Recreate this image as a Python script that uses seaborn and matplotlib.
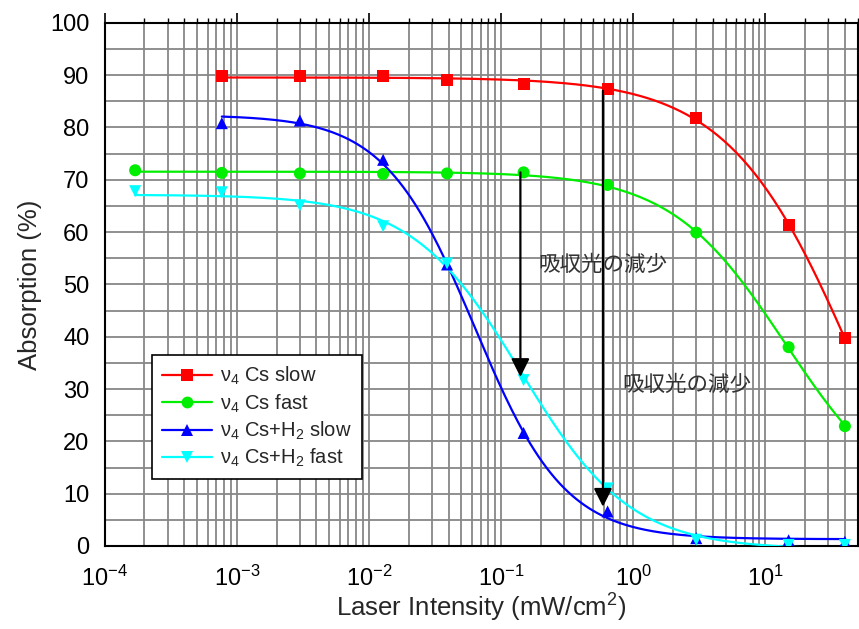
import numpy as np
import pandas as pd
import matplotlib
matplotlib.use("Agg")
import matplotlib.pyplot as plt
import seaborn as sns
from matplotlib.lines import Line2D
from matplotlib.ticker import LogLocator, MultipleLocator, NullFormatter, LogFormatterMathtext

# ---------------- data ----------------
intensity = [1.7e-4, 7.7e-4, 3.0e-3, 0.0128, 0.039, 0.148, 0.64, 3.0, 15.0, 40.0]
cs_slow   = [np.nan, 89.8, 89.8, 89.8, 89.0, 88.3, 87.3, 81.7, 61.4, 39.7]
cs_fast   = [71.8, 71.3, 71.2, 71.1, 71.2, 71.4, 69.0, 59.9, 38.0, 22.9]
csh2_slow = [np.nan, 80.8, 81.3, 73.8, 53.8, 21.6, 6.6, 1.5, 1.1, 0.8]
csh2_fast = [67.8, 67.6, 65.1, 61.1, 54.0, 31.7, 11.0, 1.2, 0.2, 0.2]

series_keys   = ["cs_slow", "cs_fast", "csh2_slow", "csh2_fast"]
series_labels = ["ν$_4$ Cs slow", "ν$_4$ Cs fast", "ν$_4$ Cs+H$_2$ slow", "ν$_4$ Cs+H$_2$ fast"]
series_colors = ["#ff0000", "#00ee00", "#0000ff", "#00ffff"]
series_markers = ["s", "o", "^", "v"]
series_values = [cs_slow, cs_fast, csh2_slow, csh2_fast]

# annotation arrows (x, y_start, y_end) and texts (x, y)
arrow_x     = [0.14, 0.59]
arrow_y0    = [71.4, 87.0]
arrow_y1    = [32.3, 7.5]
note_text   = ["吸収光の減少", "吸収光の減少"]
note_x      = [0.19, 0.83]
note_y      = [53.8, 30.7]

y_ticks = list(range(0, 101, 10))

# ---------------- helpers ----------------
def fit_sigmoid(x, y):
    """Least-squares fit of y = top*g + bottom*(1-g), g = 1/(1+(x/x0)^p)."""
    lx = np.log10(x)
    lx0 = np.linspace(-3.5, 2.5, 241)
    p = np.linspace(0.3, 3.0, 109)
    L, P = np.meshgrid(lx0, p, indexing="ij")
    g = 1.0 / (1.0 + 10 ** (P[..., None] * (lx[None, None, :] - L[..., None])))
    h = 1.0 - g
    a11 = (g * g).sum(-1); a12 = (g * h).sum(-1); a22 = (h * h).sum(-1)
    b1 = (g * y).sum(-1); b2 = (h * y).sum(-1)
    det = a11 * a22 - a12 ** 2
    det = np.where(np.abs(det) < 1e-12, np.nan, det)
    top = (b1 * a22 - b2 * a12) / det
    bot = (a11 * b2 - a12 * b1) / det
    res = ((top[..., None] * g + bot[..., None] * h - y) ** 2).sum(-1)
    i, j = np.unravel_index(np.nanargmin(res), res.shape)
    return lx0[i], p[j], top[i, j], bot[i, j]

# ---------------- frames ----------------
pts_rows, curve_rows = [], []
for key, vals in zip(series_keys, series_values):
    x = np.array(intensity, float)
    y = np.array(vals, float)
    m = ~np.isnan(y)
    x, y = x[m], y[m]
    for a, b in zip(x, y):
        pts_rows.append({"x": a, "y": b, "series": key})
    l0, p, top, bot = fit_sigmoid(x, y)
    xs = np.logspace(np.log10(x.min()), np.log10(x.max()), 300)
    g = 1.0 / (1.0 + (xs / 10 ** l0) ** p)
    ys = top * g + bot * (1 - g)
    for a, b in zip(xs, ys):
        curve_rows.append({"x": a, "y": b, "series": key})
pts = pd.DataFrame(pts_rows)
curves = pd.DataFrame(curve_rows)

palette = dict(zip(series_keys, series_colors))
markers = dict(zip(series_keys, series_markers))

# ---------------- plot ----------------
sns.set_theme(style="white")
plt.rcParams["font.family"] = ["Liberation Sans", "DejaVu Sans"]
plt.rcParams["mathtext.fontset"] = "custom"
plt.rcParams["mathtext.rm"] = "Liberation Sans"
plt.rcParams["mathtext.it"] = "Liberation Sans:italic"
plt.rcParams["mathtext.bf"] = "Liberation Sans:bold"

fig = plt.figure(figsize=(8.59, 6.29), dpi=100)
ax = fig.add_axes([104.7 / 859, 1 - 546 / 629, (857.7 - 104.7) / 859, (546 - 22.7) / 629])
ax.set_xscale("log")
ax.set_xlim(1e-4, 50)
ax.set_ylim(0, 100)

sns.lineplot(data=curves, x="x", y="y", hue="series", palette=palette,
             estimator=None, sort=False, linewidth=1.6, legend=False, ax=ax, zorder=3)
sns.scatterplot(data=pts, x="x", y="y", hue="series", style="series",
                palette=palette, markers=markers, s=75, linewidth=0,
                legend=False, ax=ax, zorder=4)

# grid
ax.set_axisbelow(True)
ax.xaxis.set_major_locator(LogLocator(base=10, numticks=20))
ax.xaxis.set_minor_locator(LogLocator(base=10, subs=np.arange(2, 10), numticks=200))
ax.xaxis.set_minor_formatter(NullFormatter())
ax.xaxis.set_major_formatter(LogFormatterMathtext())
ax.set_yticks(y_ticks)
ax.yaxis.set_minor_locator(MultipleLocator(5))
ax.grid(which="both", color="#878787", linewidth=1.3)

for s in ax.spines.values():
    s.set_color("black")
    s.set_linewidth(1.5)
ax.tick_params(which="major", direction="out", length=7, width=1.2, labelsize=17,
               colors="black", top=True, right=True, pad=4)
ax.tick_params(which="minor", direction="out", length=3.5, width=1.0,
               top=True, right=True, colors="black")
ax.tick_params(axis="x", which="major", pad=7)

ax.set_xlabel("Laser Intensity (mW/cm$^2$)", fontsize=18.5, labelpad=1)
ax.set_ylabel("Absorption (%)", fontsize=18.5, labelpad=6)

# arrows and notes
for xa, y0, y1 in zip(arrow_x, arrow_y0, arrow_y1):
    ax.annotate("", xy=(xa, y1), xytext=(xa, y0),
                arrowprops=dict(arrowstyle="-|>,head_length=1.1,head_width=0.55",
                                color="black", lw=1.6, shrinkA=0, shrinkB=0,
                                mutation_scale=10),
                zorder=5)
for t, xt, yt in zip(note_text, note_x, note_y):
    ax.text(xt, yt, t, fontsize=15.5, color="#333333", va="center", ha="left",
            family=["Noto Sans CJK JP", "DejaVu Sans"], zorder=6)

# legend
handles = [Line2D([0], [0], color=c, marker=mk, markersize=8.5, linewidth=1.6,
                  markeredgewidth=0) for c, mk in zip(series_colors, series_markers)]
leg = ax.legend(handles, series_labels, loc="upper left",
                bbox_to_anchor=((152 - 104.7) / 753, (546 - 355) / 523.3),
                borderaxespad=0, frameon=True, fancybox=False, framealpha=1,
                edgecolor="black", fontsize=14.5, handlelength=2.5,
                handletextpad=0.4, labelspacing=0.25, borderpad=0.5)
leg.get_frame().set_linewidth(1.2)
leg.set_zorder(7)

fig.savefig("out.png", dpi=100)
